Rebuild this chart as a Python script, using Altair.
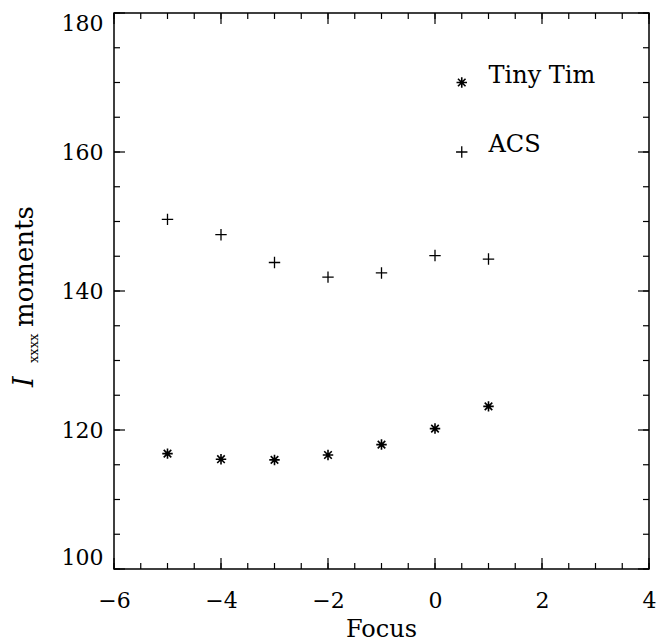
import altair as alt
import pandas as pd

# ---- data ----
focus = [-5, -4, -3, -2, -1, 0, 1]
tiny_tim = [116.6, 115.8, 115.7, 116.4, 117.9, 120.2, 123.4]
acs = [150.3, 148.1, 144.1, 142.0, 142.6, 145.1, 144.6]

x_major = [-6, -4, -2, 0, 2, 4]
x_minor = [-6 + 0.5 * i for i in range(21)]
y_major = [100, 120, 140, 160, 180]
y_minor = [100 + 5 * i for i in range(17)]

legend_labels = ["Tiny Tim", "ACS"]
legend_x = [0.5, 0.5]
legend_y = [170, 160]
legend_text_x = [1.0, 1.0]

W, H = 535, 556
FONT = "DejaVu Serif"

ASTER = "M-1,0L1,0M0,-1L0,1M-0.72,-0.72L0.72,0.72M-0.72,0.72L0.72,-0.72"
PLUS = "M-1,0L1,0M0,-1L0,1"

xs = alt.Scale(domain=[-6, 4], nice=False, zero=False)
ys = alt.Scale(domain=[100, 180], nice=False, zero=False)

XAX = alt.Axis(title=None, values=x_major, domain=False, ticks=False, grid=False,
               labelFont=FONT, labelFontSize=22, labelColor="black", labelPadding=21,
               labelFlush=False, format="d")
YAX = alt.Axis(title=None, values=y_major, domain=False, ticks=False, grid=False,
               labelFont=FONT, labelFontSize=22, labelColor="black", labelPadding=11,
               labelFlush=True, format="d")


def X(f):
    return alt.X(f, scale=xs, axis=XAX)


def Y(f):
    return alt.Y(f, scale=ys, axis=YAX)


df = pd.DataFrame({"focus": focus, "tt": tiny_tim, "acs": acs})
base = alt.Chart(df)

tt_pts = base.mark_point(shape=ASTER, filled=False, color="black", opacity=1,
                         strokeWidth=1.6, size=110).encode(x=X("focus:Q"), y=Y("tt:Q"))
acs_pts = base.mark_point(shape=PLUS, filled=False, color="black", opacity=1,
                          strokeWidth=1.3, size=130).encode(x=X("focus:Q"), y=Y("acs:Q"))

# legend
leg = pd.DataFrame({"label": legend_labels, "mx": legend_x, "my": legend_y, "tx": legend_text_x})
leg_tt = alt.Chart(leg.iloc[[0]]).mark_point(shape=ASTER, filled=False, color="black", opacity=1,
                                             strokeWidth=1.6, size=110).encode(
    x=X("mx:Q"), y=Y("my:Q"))
leg_acs = alt.Chart(leg.iloc[[1]]).mark_point(shape=PLUS, filled=False, color="black", opacity=1,
                                              strokeWidth=1.3, size=130).encode(
    x=X("mx:Q"), y=Y("my:Q"))
leg_text = alt.Chart(leg).mark_text(font=FONT, fontSize=24, align="left", baseline="alphabetic",
                                    color="black").encode(
    x=X("tx:Q"), y=Y("my:Q"), text="label:N")

# inward ticks on all four sides
xmaj = pd.DataFrame({"v": x_major})
xmin = pd.DataFrame({"v": x_minor})
ymaj = pd.DataFrame({"v": y_major})
ymin = pd.DataFrame({"v": y_minor})


def xticks(d, length):
    b = alt.Chart(d).mark_rule(color="black", strokeWidth=1.2).encode(
        x=X("v:Q"), y=alt.value(H), y2=alt.value(H - length))
    t = alt.Chart(d).mark_rule(color="black", strokeWidth=1.2).encode(
        x=X("v:Q"), y=alt.value(0), y2=alt.value(length))
    return [b, t]


def yticks(d, length):
    l = alt.Chart(d).mark_rule(color="black", strokeWidth=1.2).encode(
        y=Y("v:Q"), x=alt.value(0), x2=alt.value(length))
    r = alt.Chart(d).mark_rule(color="black", strokeWidth=1.2).encode(
        y=Y("v:Q"), x=alt.value(W), x2=alt.value(W - length))
    return [l, r]


ticks = xticks(xmin, 6) + xticks(xmaj, 11) + yticks(ymin, 6) + yticks(ymaj, 11)

# axis titles
xtitle = alt.Chart(pd.DataFrame({"t": ["Focus"]})).mark_text(
    font=FONT, fontSize=24, align="center", baseline="alphabetic", color="black").encode(
    x=alt.value(W / 2), y=alt.value(624), text="t:N")

yt_I = alt.Chart(pd.DataFrame({"t": ["I"]})).mark_text(
    font=FONT, fontSize=27, fontStyle="italic", angle=270, align="left",
    baseline="alphabetic", color="black").encode(
    x=alt.value(-81), y=alt.value(374), text="t:N")
yt_sub = alt.Chart(pd.DataFrame({"t": ["xxxx"]})).mark_text(
    font=FONT, fontSize=13, angle=270, align="left",
    baseline="alphabetic", color="black").encode(
    x=alt.value(-76), y=alt.value(350), text="t:N")
yt_mom = alt.Chart(pd.DataFrame({"t": ["moments"]})).mark_text(
    font=FONT, fontSize=26, angle=270, align="left",
    baseline="alphabetic", color="black").encode(
    x=alt.value(-81), y=alt.value(314), text="t:N")

chart = alt.layer(
    tt_pts, acs_pts, leg_tt, leg_acs, leg_text, *ticks, xtitle, yt_I, yt_sub, yt_mom
).properties(
    width=W, height=H,
    background="white",
    autosize=alt.AutoSizeParams(type="none"),
    padding={"left": 106, "top": 5, "right": 8, "bottom": 75},
).configure_view(
    stroke="black", strokeWidth=1.5
)

chart.save("out.html", embed_options={"renderer": "svg", "actions": False})
